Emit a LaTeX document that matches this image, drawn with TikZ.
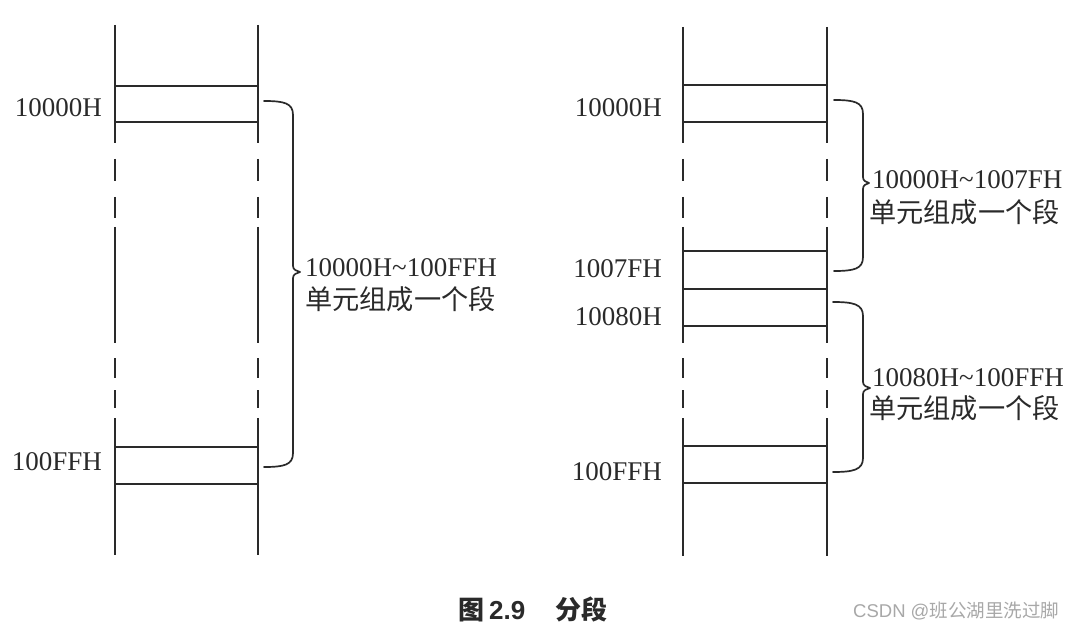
\documentclass[tikz,border=0pt]{standalone}
\usepackage{fontspec}
\setmainfont{Liberation Serif}
\newfontfamily\cjk{Noto Sans CJK SC}
\newfontfamily\capsans{Liberation Sans}
\definecolor{ink}{HTML}{2A2A2A}
\definecolor{wm}{HTML}{A8A8A8}
\tikzset{
  wall/.style={draw=ink, line width=2pt},
  cell/.style={draw=ink, line width=2pt},
  bracepath/.style={draw=ink, line width=1.7pt, line cap=round, line join=round},
  addr/.style={anchor=base east, inner sep=0pt, text=ink, font=\fontsize{27}{32}\selectfont},
  rng/.style={anchor=base west, inner sep=0pt, text=ink, font=\fontsize{27}{32}\selectfont},
  cjkline/.style={anchor=base west, inner sep=0pt, text=ink, font=\fontsize{27.2}{32}\selectfont\cjk},
}
% column wall with dashed gaps: #1 x, #2 top, #3 bottom
\newcommand{\memwall}[3]{%
  \draw[wall] (#1,#2) -- (#1,143);
  \draw[wall] (#1,159) -- (#1,181);
  \draw[wall] (#1,197) -- (#1,218);
  \draw[wall] (#1,227) -- (#1,343);
  \draw[wall] (#1,358) -- (#1,378);
  \draw[wall] (#1,390) -- (#1,408);
  \draw[wall] (#1,418) -- (#1,#3);
}
% brace: #1 x0, #2 xv, #3 xt, #4 ytop, #5 ymid, #6 ybot
\newcommand{\segbrace}[6]{%
  \draw[bracepath] (#1,#4) .. controls ({#1+20},{#4}) and ({#2},{#4+2}) .. ({#2},{#4+14})
    -- ({#2},{#5-6}) .. controls ({#2},{#5-2}) and ({#3-3},{#5-1}) .. ({#3},{#5})
    .. controls ({#3-3},{#5+1}) and ({#2},{#5+2}) .. ({#2},{#5+6})
    -- ({#2},{#6-14}) .. controls ({#2},{#6-2}) and ({#1+20},{#6}) .. (#1,#6);
}
\begin{document}
\begin{tikzpicture}[x=1pt,y=-1pt]
\fill[white] (0,0) rectangle (1079,628);
\useasboundingbox (0,0) rectangle (1079,628);

% ---------- left memory column ----------
\memwall{115}{25}{555}
\memwall{258}{25}{555}
\coordinate (L1a) at (115,86);  \coordinate (L1b) at (258,86);
\coordinate (L2a) at (115,122); \coordinate (L2b) at (258,122);
\coordinate (L3a) at (115,447); \coordinate (L3b) at (258,447);
\coordinate (L4a) at (115,484); \coordinate (L4b) at (258,484);
\draw[cell] (L1a) -- (L1b);
\draw[cell] (L2a) -- (L2b);
\draw[cell] (L3a) -- (L3b);
\draw[cell] (L4a) -- (L4b);
\node[addr] (la1) at (102,117) {10000H};
\node[addr] (la2) at (102,470) {100FFH};
\segbrace{264}{293}{300}{101}{272}{467}
\node[rng] (lr1) at (305,277) {10000H\textasciitilde100FFH};
\node[cjkline] (lr2) at (305,310) {单元组成一个段};

% ---------- right memory column ----------
\memwall{683}{27}{556}
\memwall{827}{27}{556}
\foreach \y/\n in {85/1,122/2,251/3,289/4,326/5,446/6,483/7}{
  \coordinate (R\n a) at (683,\y);
  \coordinate (R\n b) at (827,\y);
  \draw[cell] (R\n a) -- (R\n b);
}
\node[addr] (ra1) at (662,117) {10000H};
\node[addr] (ra2) at (662,278) {1007FH};
\node[addr] (ra3) at (662,326) {10080H};
\node[addr] (ra4) at (662,480) {100FFH};
\segbrace{834}{863}{869}{100}{183}{271}
\node[rng] (rr1) at (872,189) {10000H\textasciitilde1007FH};
\node[cjkline] (rr2) at (869,223) {单元组成一个段};
\segbrace{833}{863}{870}{302}{388}{472}
\node[rng] (rr3) at (872,386) {10080H\textasciitilde100FFH};
\node[cjkline] (rr4) at (869,418) {单元组成一个段};

% ---------- caption and watermark ----------
\node[anchor=base west, inner sep=0pt, text=ink, font=\fontsize{26}{30}\selectfont\capsans\bfseries] (cap) at (458,619)
  {{\cjk\bfseries 图}\hspace{5pt}2.9\hspace{30pt}{\cjk\bfseries 分段}};
\node[anchor=base west, inner sep=0pt, text=wm, font=\fontsize{18.5}{22}\selectfont\capsans] (wmk) at (853,617)
  {CSDN @{\cjk 班公湖里洗过脚}};
\end{tikzpicture}
\end{document}
